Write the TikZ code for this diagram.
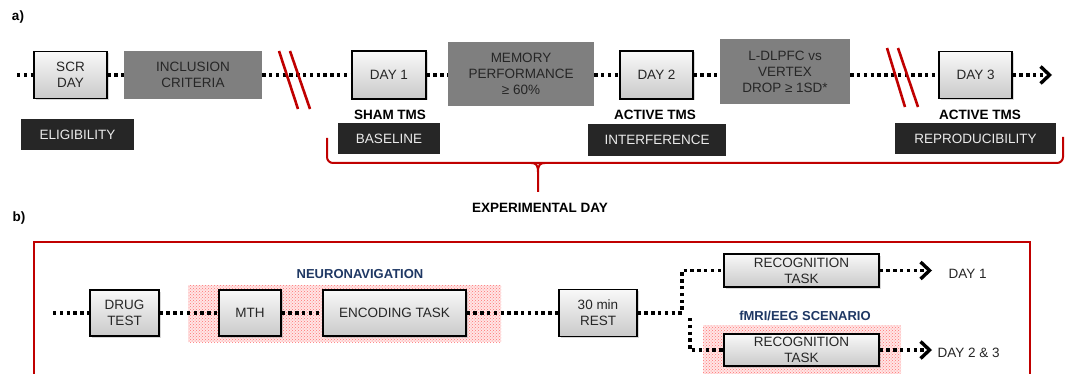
\documentclass[tikz,border=0pt]{standalone}
\usepackage{fontspec}
\setmainfont{Liberation Sans}
\usetikzlibrary{arrows.meta,patterns,shadows}
\definecolor{redline}{HTML}{C00000}
\definecolor{gbox}{HTML}{7F7F7F}
\definecolor{dbox}{HTML}{262626}
\definecolor{navy}{HTML}{1F3864}
\definecolor{ink}{HTML}{262626}
\begin{document}
\begin{tikzpicture}[x=1pt,y=-1pt,
  txt/.style={font=\fontsize{13.5}{16}\selectfont},
  daybox/.style={txt, draw=black, line width=1.3pt, top color=gray!5, bottom color=gray!42,
    text=ink, align=center, inner sep=0pt,
    drop shadow={shadow xshift=1.5pt, shadow yshift=-1.5pt, opacity=0.3}},
  critbox/.style={txt, fill=gbox, text=ink, align=center, inner sep=0pt},
  phasebox/.style={txt, fill=dbox, text=white!92!black, align=center, inner sep=0pt},
  boldlbl/.style={font=\fontsize{13.5}{16}\selectfont\bfseries, text=black},
  bluelbl/.style={font=\fontsize{13}{15}\selectfont\bfseries, text=navy},
  dotline/.style={line width=3.4pt, dash pattern=on 3.4pt off 3.4pt, black},
  tip/.style={-{Straight Barb[length=9pt,width=17pt]}},
  slash/.style={redline, line width=2.6pt},
  hatch/.style={preaction={fill=red!10}, pattern=crosshatch dots, pattern color=red!55},
]
\fill[white] (0,0) rectangle (1070,374);
\useasboundingbox (0,0) rectangle (1070,374);

% ---------------- panel a: timeline ----------------
\node[boldlbl] (la) at (18,17) {a)};

\coordinate (astart) at (17,75);
\coordinate (aend) at (1052,75);

\node[daybox, minimum width=73pt, minimum height=47pt] (scr) at (70.5,75) {SCR\\DAY};
\node[critbox, minimum width=138pt, minimum height=48pt] (incl) at (193,75) {INCLUSION\\CRITERIA};
\node[daybox, minimum width=74pt, minimum height=48pt] (day1) at (389,75) {DAY 1};
\node[critbox, minimum width=146pt, minimum height=64pt] (mem) at (521,74) {MEMORY\\PERFORMANCE\\≥ 60\%};
\node[daybox, minimum width=73pt, minimum height=48pt] (day2) at (656.5,75) {DAY 2};
\node[critbox, minimum width=130pt, minimum height=65pt] (ldl) at (785,72) {L-DLPFC vs\\VERTEX\\DROP ≥ 1SD*};
\node[daybox, minimum width=73pt, minimum height=47pt] (day3) at (975.5,75) {DAY 3};

\draw[dotline] (astart) -- (scr.west);
\draw[dotline] (scr.east) -- (incl.west);
\draw[dotline] (incl.east) -- (day1.west);
\draw[dotline] (day1.east) -- (mem.west |- day1.east);
\draw[dotline] (mem.east |- day2.west) -- (day2.west);
\draw[dotline] (day2.east) -- (ldl.west |- day2.east);
\draw[dotline] (ldl.east |- day3.west) -- (day3.west);
\draw[dotline, tip] (day3.east) -- (aend);

% breaks in the time axis
\draw[slash] (279,51) -- (298,109);
\draw[slash] (290,51) -- (310,109);
\draw[slash] (887,48) -- (905,107);
\draw[slash] (898,48) -- (918,107);

% phase labels
\node[phasebox, minimum width=113pt, minimum height=31pt] (elig) at (77.5,134.5) {ELIGIBILITY};
\node[boldlbl] (sham) at (390,115) {SHAM TMS};
\node[phasebox, minimum width=102pt, minimum height=31pt] (base) at (389,138.5) {BASELINE};
\node[boldlbl] (act1) at (655,115) {ACTIVE TMS};
\node[phasebox, minimum width=138pt, minimum height=32pt] (inter) at (657,140) {INTERFERENCE};
\node[boldlbl] (act2) at (980,115) {ACTIVE TMS};
\node[phasebox, minimum width=161pt, minimum height=31pt] (repro) at (975.5,139) {REPRODUCIBILITY};

% brace grouping the experimental days
\draw[redline, line width=2pt, rounded corners=6pt] (327,138) -- (327,163) -- (1063,163) -- (1063,137);
\draw[redline, line width=2pt] (531,163) .. controls (536,163) and (538,165) .. (538,172) -- (538,192);
\draw[redline, line width=2pt] (545,163) .. controls (540,163) and (538,165) .. (538,172);
\node[boldlbl] (expday) at (540,208) {EXPERIMENTAL DAY};

% ---------------- panel b: session ----------------
\node[boldlbl] (lb) at (19,218) {b)};
\draw[redline, line width=2.4pt] (34,380) -- (34,242) -- (1030,242) -- (1030,380);

\fill[hatch] (188,285) rectangle (501,342);
\fill[hatch] (703,325) rectangle (901,380);
\node[bluelbl] (neuro) at (360,274) {NEURONAVIGATION};
\node[bluelbl] (fmri) at (805,316) {fMRI/EEG SCENARIO};

\coordinate (bstart) at (53,313);
\node[daybox, minimum width=69pt, minimum height=46pt] (drug) at (124.5,313) {DRUG\\TEST};
\node[daybox, minimum width=62pt, minimum height=46pt] (mth) at (250,313) {MTH};
\node[daybox, minimum width=143pt, minimum height=46pt] (enc) at (394.5,313) {ENCODING TASK};
\node[daybox, minimum width=78pt, minimum height=47pt] (rest) at (598,313) {30 min\\REST};
\node[daybox, minimum width=155pt, minimum height=33pt] (rec1) at (801.5,270.5) {RECOGNITION\\TASK};
\node[daybox, minimum width=155pt, minimum height=32pt] (rec2) at (801.5,350) {RECOGNITION\\TASK};
\node[txt, anchor=west, text=ink] (d1) at (945,274) {DAY 1};
\node[txt, anchor=west, text=ink] (d23) at (934,353) {DAY 2 \& 3};

\coordinate (fork) at (690,318);
\coordinate (end1) at (932,270.5);
\coordinate (end2) at (932,350);

\draw[dotline] (bstart) -- (drug.west);
\draw[dotline] (drug.east) -- (mth.west);
\draw[dotline] (mth.east) -- (enc.west);
\draw[dotline] (enc.east) -- (rest.west);
\draw[dotline] (rest.east) -- (682,313) -- (682,270.5) -- (rec1.west);
\draw[dotline] (fork) -- (fork |- rec2.west) -- (rec2.west);
\draw[dotline, tip] (rec1.east) -- (end1);
\draw[dotline, tip] (rec2.east) -- (end2);
\end{tikzpicture}
\end{document}
